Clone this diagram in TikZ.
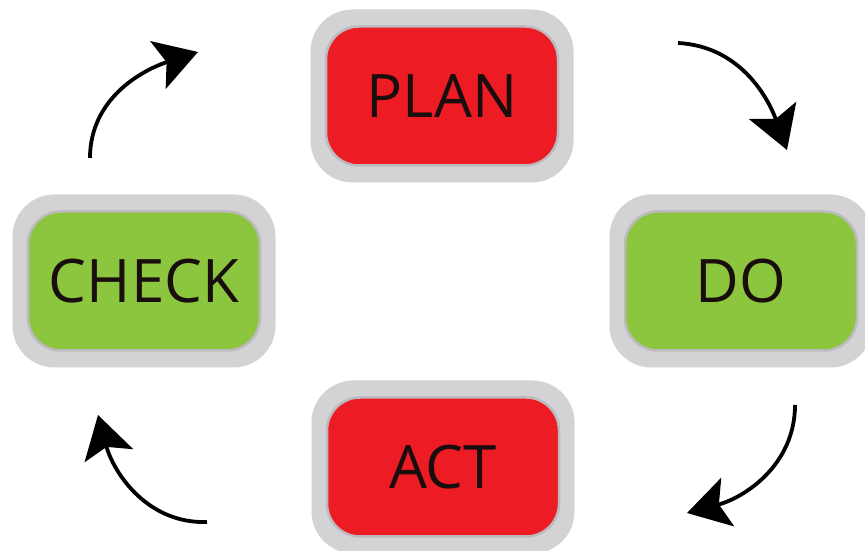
\documentclass[tikz,border=0pt]{standalone}
\usepackage{fontspec}
\setmainfont{Open Sans}
\usetikzlibrary{arrows.meta}
\definecolor{rimgray}{HTML}{D3D3D5}
\definecolor{edgegray}{HTML}{BBBBBD}
\definecolor{stagered}{HTML}{ED1C24}
\definecolor{stagegreen}{HTML}{8CC63F}
\definecolor{labelink}{HTML}{1A0D0D}

\begin{document}
\begin{tikzpicture}[x=1pt,y=1pt,
    rim/.style={rectangle,rounded corners=42pt,fill=rimgray,minimum width=263pt,minimum height=173pt},
    stage/.style={rectangle,rounded corners=33pt,draw=edgegray,line width=2.5pt,minimum width=232pt,minimum height=139pt,text=labelink,font=\fontsize{60}{72}\selectfont},
    flow/.style={line width=3.8pt,-{Stealth[length=42pt,width=50pt,inset=9pt]}}]
            \useasboundingbox (0,0) rectangle (865,551);
            % grey frames
            \node (planrim) at (442,455) [rim] {};
            \node (checkrim) at (144,270) [rim] {};
            \node (dorim) at (741,270) [rim] {};
            \node (actrim) at (443,84) [rim] {};
            % stages
            \node (plan) at (442,455) [stage,fill=stagered] {PLAN};
            \node (check) at (144,270) [stage,fill=stagegreen] {CHECK};
            \node (do) at (741,270) [stage,fill=stagegreen] {DO};
            \node (act) at (443,84) [stage,fill=stagered] {ACT};
            % arrow ends
            \coordinate (c1) at (90,393);
            \coordinate (p1) at (198,499);
            \coordinate (p2) at (678,508);
            \coordinate (d2) at (787,401);
            \coordinate (d3) at (795,146);
            \coordinate (a3) at (687,38);
            \coordinate (a4) at (207,29);
            \coordinate (c4) at (98,136);
            \draw[flow] (c1) to[out=90,in=198] (p1);
            \draw[flow] (p2) to[out=-3,in=110] (d2);
            \draw[flow] (d3) to[out=-90,in=15] (a3);
            \draw[flow] (a4) to[out=182,in=-75] (c4);
        \end{tikzpicture}
\end{document}
